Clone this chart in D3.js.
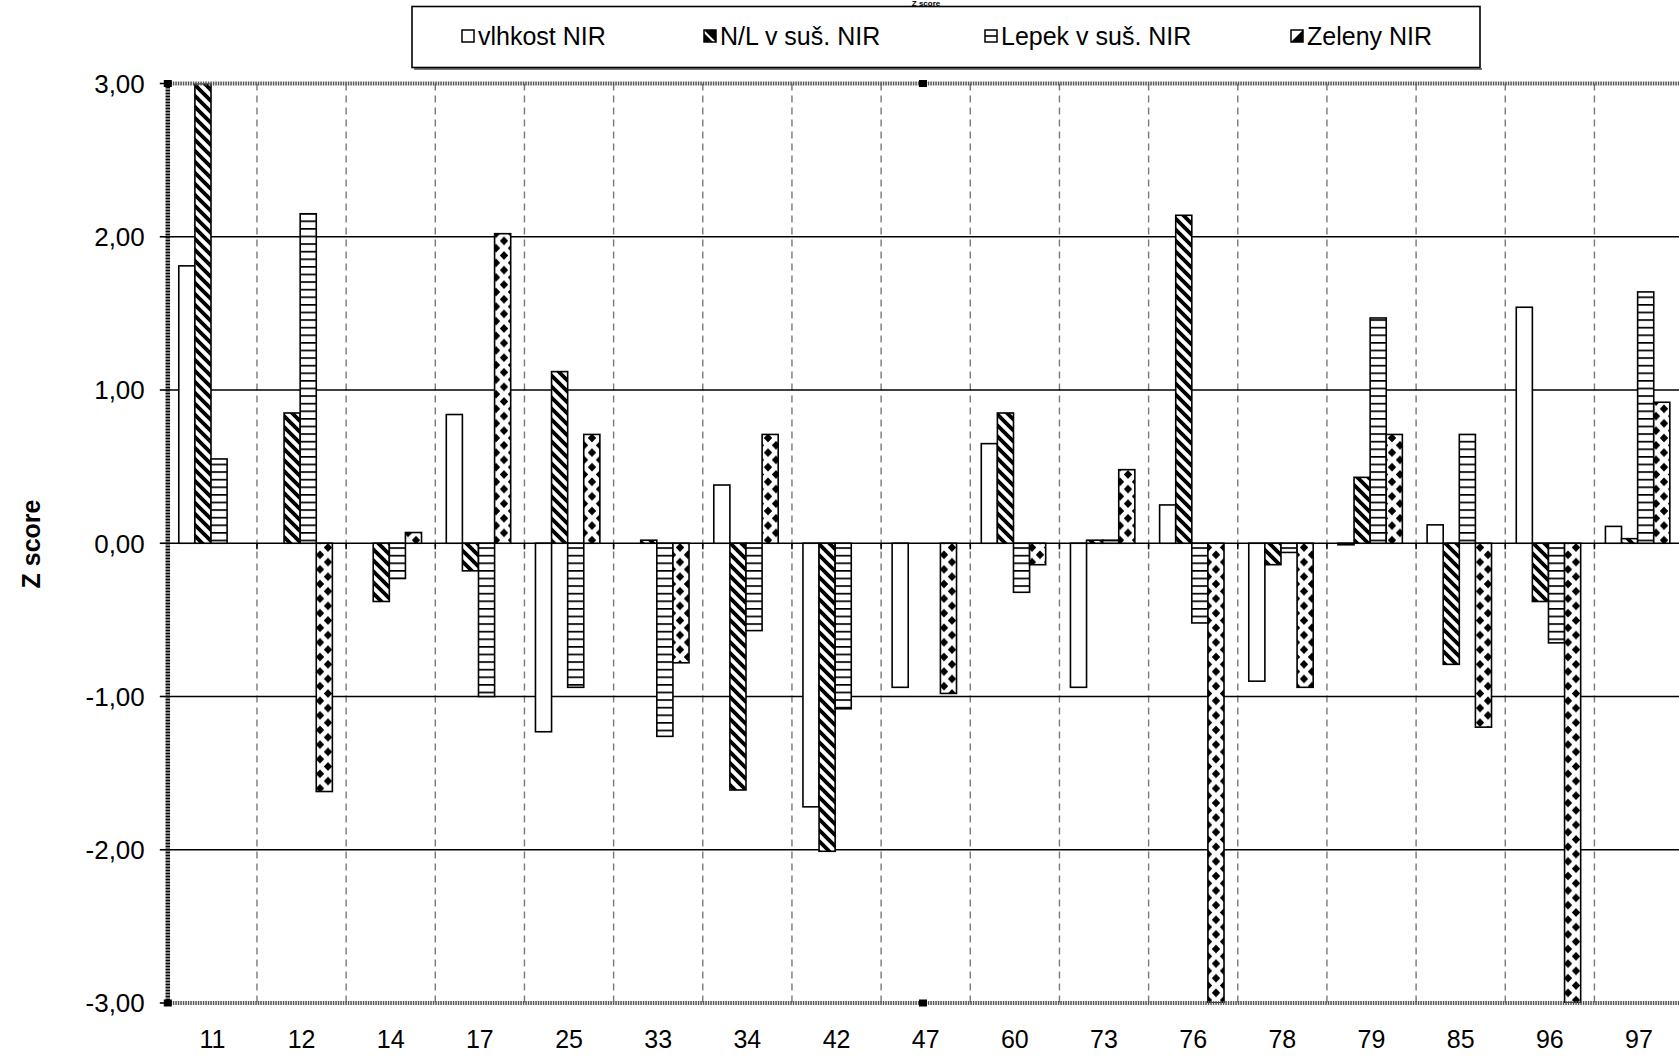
<!DOCTYPE html>
<html><head><meta charset="utf-8">
<script src="https://cdn.jsdelivr.net/npm/d3@7"></script>
<style>html,body{margin:0;padding:0;background:#fff;overflow:hidden}</style>
</head><body>
<svg id="chart" width="1679" height="1056" xmlns="http://www.w3.org/2000/svg"></svg>
<script>
// ---- data ----
const categories = ["11","12","14","17","25","33","34","42","47","60","73","76","78","79","85","96","97"];
const seriesNames = ["vlhkost NIR","N/L v suš. NIR","Lepek v suš. NIR","Zeleny NIR"];
const vlhkost = [1.81, null, null, 0.84, -1.23, null, 0.38, -1.72, -0.94, 0.65, -0.94, 0.25, -0.90, -0.01, 0.12, 1.54, 0.11];
const nlSus   = [3.00, 0.85, -0.38, -0.18, 1.12, 0.02, -1.61, -2.01, null, 0.85, 0.02, 2.14, -0.14, 0.43, -0.79, -0.38, 0.03];
const lepek   = [0.55, 2.15, -0.23, -1.00, -0.94, -1.26, -0.57, -1.08, null, -0.32, 0.02, -0.52, -0.06, 1.47, 0.71, -0.65, 1.64];
const zeleny  = [null, -1.62, 0.07, 2.02, 0.71, -0.78, 0.71, null, -0.98, -0.14, 0.48, -3.00, -0.94, 0.71, -1.20, -3.00, 0.92];
const yTicks = [3, 2, 1, 0, -1, -2, -3];
const yTitle = "Z score";
const chartTitle = "Z score";

// ---- layout ----
const plot = {left: 167.8, right: 1683.6, top: 83.5, bottom: 1003};
const font = "'Liberation Sans', Arial, Helvetica, sans-serif";
const svg = d3.select("#chart");
svg.append("rect").attr("width", 1679).attr("height", 1056).attr("fill", "#fff");

const keys = ["v", "n", "l", "z"];
const series = [
  {key: "v", name: seriesNames[0], values: vlhkost, fill: "#fff"},
  {key: "n", name: seriesNames[1], values: nlSus, fill: "url(#pNL)"},
  {key: "l", name: seriesNames[2], values: lepek, fill: "url(#pLep)"},
  {key: "z", name: seriesNames[3], values: zeleny, fill: "url(#pZel)"}
];

const y = d3.scaleLinear().domain([-3, 3]).range([plot.bottom, plot.top]);
const x0 = d3.scaleBand().domain(categories).range([plot.left, plot.right]).paddingInner(0).paddingOuter(0);
const x1 = d3.scaleBand().domain(keys).range([11, 11 + 64.4]);
const fmt = v => d3.format(".2f")(v).replace(".", ",").replace("\u2212", "-");

// ---- patterns ----
const defs = svg.append("defs");
// N/L: thick "\" diagonal stripes
const pNL = defs.append("pattern").attr("id", "pNL").attr("patternUnits", "userSpaceOnUse")
  .attr("width", 11).attr("height", 11);
pNL.append("rect").attr("width", 11).attr("height", 11).attr("fill", "#fff");
pNL.append("path").attr("d", "M-3,-3 L14,14 M-3,8 L3,14 M8,-3 L14,3")
  .attr("stroke", "#000").attr("stroke-width", 3.8);
// Lepek: horizontal lines
const pLep = defs.append("pattern").attr("id", "pLep").attr("patternUnits", "userSpaceOnUse")
  .attr("width", 8).attr("height", 7.6);
pLep.append("rect").attr("width", 8).attr("height", 7.6).attr("fill", "#fff");
pLep.append("rect").attr("y", 0).attr("width", 8).attr("height", 1.7).attr("fill", "#000");
// Zeleny: diamonds
const pZel = defs.append("pattern").attr("id", "pZel").attr("patternUnits", "userSpaceOnUse")
  .attr("width", 16).attr("height", 14.6);
pZel.append("rect").attr("width", 16).attr("height", 14.6).attr("fill", "#fff");
const dia = (cx, cy) => `M${cx},${cy-4.4} L${cx+4.2},${cy} L${cx},${cy+4.4} L${cx-4.2},${cy} Z`;
pZel.append("path").attr("fill", "#000")
  .attr("d", [dia(0,0), dia(16,0), dia(0,14.6), dia(16,14.6), dia(8,7.3)].join(" "));

defs.append("clipPath").attr("id", "plotClip").append("rect")
  .attr("x", plot.left).attr("y", plot.top)
  .attr("width", plot.right - plot.left).attr("height", plot.bottom - plot.top);

// ---- grid ----
const grid = svg.append("g");
grid.selectAll("line.v").data(categories.slice(1)).join("line")
  .attr("x1", d => x0(d)).attr("x2", d => x0(d))
  .attr("y1", plot.top).attr("y2", plot.bottom)
  .attr("stroke", "#7a7a7a").attr("stroke-width", 1.4).attr("stroke-dasharray", "7,5");
grid.selectAll("line.h").data(yTicks.filter(t => t > -3 && t < 3)).join("line")
  .attr("x1", plot.left).attr("x2", plot.right)
  .attr("y1", d => y(d)).attr("y2", d => y(d))
  .attr("stroke", "#000").attr("stroke-width", 1.6);

// ---- bars ----
const barsG = svg.append("g").attr("clip-path", "url(#plotClip)");
series.forEach(s => {
  const data = categories.map((c, i) => ({c, v: s.values[i]})).filter(d => d.v !== null);
  barsG.append("g").selectAll("rect").data(data).join("rect")
    .attr("x", d => x0(d.c) + x1(s.key))
    .attr("width", x1.bandwidth())
    .attr("y", d => y(Math.max(d.v, 0)))
    .attr("height", d => Math.abs(y(d.v) - y(0)))
    .attr("fill", s.fill)
    .attr("stroke", "#000").attr("stroke-width", 1.6);
});

// ticks on category axis (at zero)
svg.append("g").selectAll("line").data(categories.slice(1)).join("line")
  .attr("x1", d => x0(d)).attr("x2", d => x0(d))
  .attr("y1", y(0)).attr("y2", y(0) + 6)
  .attr("stroke", "#000").attr("stroke-width", 1.6);

// ---- plot area border (selected look) ----
svg.append("line").attr("x1", plot.left).attr("x2", plot.right).attr("y1", plot.top).attr("y2", plot.top)
  .attr("stroke", "#555").attr("stroke-width", 4).attr("stroke-dasharray", "1.5,1");
svg.append("line").attr("x1", plot.left).attr("x2", plot.right).attr("y1", plot.bottom).attr("y2", plot.bottom)
  .attr("stroke", "#555").attr("stroke-width", 4).attr("stroke-dasharray", "1.5,1");
svg.append("line").attr("x1", plot.left).attr("x2", plot.left).attr("y1", plot.top).attr("y2", plot.bottom)
  .attr("stroke", "#000").attr("stroke-width", 4.5).attr("stroke-dasharray", "2,1");

// y ticks and labels
const yAxisG = svg.append("g");
yAxisG.selectAll("line").data(yTicks).join("line")
  .attr("x1", plot.left - 8).attr("x2", plot.left)
  .attr("y1", d => y(d)).attr("y2", d => y(d))
  .attr("stroke", "#000").attr("stroke-width", 1.6);
yAxisG.selectAll("text").data(yTicks).join("text")
  .attr("x", plot.left - 23).attr("y", d => y(d)).attr("dy", "0.36em")
  .attr("text-anchor", "end").attr("font-family", font).attr("font-size", 26)
  .attr("fill", "#000").text(d => fmt(d));

// selection handles
const handles = [[plot.left, plot.top], [plot.left, plot.bottom], [923, plot.top], [923, plot.bottom]];
svg.append("g").selectAll("rect").data(handles).join("rect")
  .attr("x", d => d[0] - 4).attr("y", d => d[1] - 3.5).attr("width", 8).attr("height", 7)
  .attr("fill", "#000");

// x labels
svg.append("g").selectAll("text").data(categories).join("text")
  .attr("x", d => x0(d) + x0.bandwidth() / 2).attr("y", 1048)
  .attr("text-anchor", "middle").attr("font-family", font).attr("font-size", 25)
  .attr("fill", "#000").text(d => d);

// y title
svg.append("text").attr("transform", "translate(40,544) rotate(-90)")
  .attr("text-anchor", "middle").attr("font-family", font).attr("font-size", 25)
  .attr("font-weight", "bold").attr("fill", "#000").text(yTitle);

// chart title (reference shows it almost entirely above the frame; kept small and visible)
svg.append("text").attr("x", 926).attr("y", 6).attr("text-anchor", "middle")
  .attr("font-family", font).attr("font-size", 8).attr("font-weight", "bold")
  .attr("fill", "#000").text(chartTitle);

// ---- legend ----
const lg = svg.append("g");
lg.append("line").attr("x1", 414).attr("x2", 1482).attr("y1", 69).attr("y2", 69)
  .attr("stroke", "#777").attr("stroke-width", 2);
lg.append("rect").attr("x", 412).attr("y", 6.5).attr("width", 1068).attr("height", 61)
  .attr("fill", "#fff").attr("stroke", "#000").attr("stroke-width", 1.6);
const legendX = [462, 704, 985, 1291];
series.forEach((s, i) => {
  const g = lg.append("g").attr("transform", `translate(${legendX[i]},30)`);
  g.append("rect").attr("width", 12).attr("height", 12).attr("fill", "#fff")
    .attr("stroke", "#000").attr("stroke-width", 1.5);
  if (s.key === "n") {
    g.append("path").attr("d", "M0,0 L12,0 L12,12 Z M0,3 L0,12 L9,12 Z").attr("fill", "#000");
  } else if (s.key === "l") {
    g.append("line").attr("x1", 0).attr("x2", 12).attr("y1", 6).attr("y2", 6)
      .attr("stroke", "#000").attr("stroke-width", 1.6);
  } else if (s.key === "z") {
    g.append("path").attr("d", "M12,0 L12,12 L0,12 Z").attr("fill", "#000");
  }
  g.append("text").attr("x", 16).attr("y", 6).attr("dy", "0.36em")
    .attr("font-family", font).attr("font-size", 25).attr("fill", "#000").text(s.name);
});
</script>
</body></html>
